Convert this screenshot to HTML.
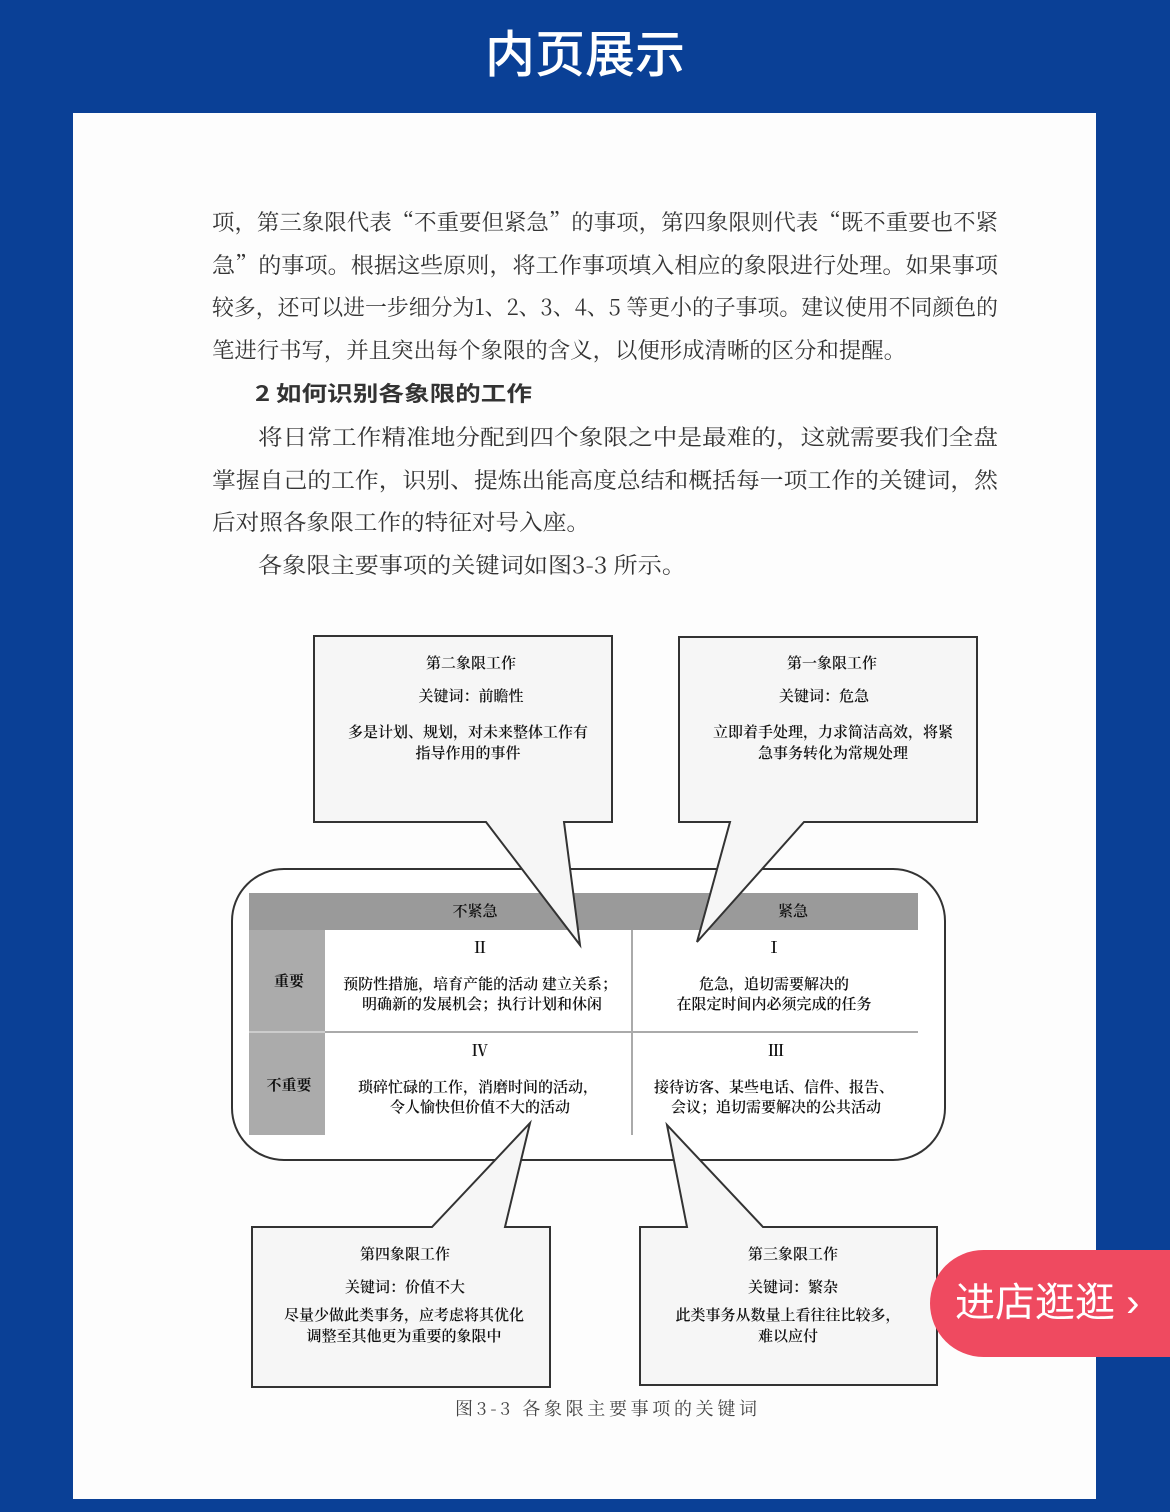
<!DOCTYPE html>
<html><head><meta charset="utf-8"><style>
html,body{margin:0;padding:0;}
body{width:1170px;height:1512px;background:#0a4096;position:relative;overflow:hidden;font-family:"Liberation Serif","Noto Serif CJK SC",serif;}
svg{position:absolute;left:0;top:0;}
.btn{position:absolute;left:930px;top:1250px;width:260px;height:107px;border-radius:54px 0 0 54px;background:#ef4a60;color:#fff;font-family:"Liberation Sans","Noto Sans CJK SC",sans-serif;font-size:40px;line-height:107px;padding-left:25px;box-sizing:border-box;}
</style></head><body>
<svg width="1170" height="1512" viewBox="0 0 1170 1512" xmlns="http://www.w3.org/2000/svg">
<text x="585" y="72" fill="#fff" font-family="Noto Sans CJK SC, sans-serif" font-size="50" text-anchor="middle" font-weight="500">内页展示</text>
<rect x="73" y="113" width="1023" height="1386" fill="#fdfdfd"/>
<g font-family="Noto Serif CJK SC, serif" font-size="22" fill="#333">
<text x="212" y="230" textLength="786" lengthAdjust="spacingAndGlyphs">项，第三象限代表“不重要但紧急”的事项，第四象限则代表“既不重要也不紧</text>
<text x="212" y="273" textLength="786" lengthAdjust="spacingAndGlyphs">急”的事项。根据这些原则，将工作事项填入相应的象限进行处理。如果事项</text>
<text x="212" y="315" textLength="786" lengthAdjust="spacingAndGlyphs">较多，还可以进一步细分为1、2、3、4、5 等更小的子事项。建议使用不同颜色的</text>
<text x="212" y="358" textLength="694" lengthAdjust="spacingAndGlyphs">笔进行书写，并且突出每个象限的含义，以便形成清晰的区分和提醒。</text>
<text x="255" y="401" font-family="Noto Sans CJK SC, sans-serif" font-weight="bold" font-size="21" textLength="277" lengthAdjust="spacingAndGlyphs">2  如何识别各象限的工作</text>
<text x="258" y="445" textLength="740" lengthAdjust="spacingAndGlyphs">将日常工作精准地分配到四个象限之中是最难的，这就需要我们全盘</text>
<text x="212" y="488" textLength="786" lengthAdjust="spacingAndGlyphs">掌握自己的工作，识别、提炼出能高度总结和概括每一项工作的关键词，然</text>
<text x="212" y="530" textLength="378" lengthAdjust="spacingAndGlyphs">后对照各象限工作的特征对号入座。</text>
<text x="258" y="573" textLength="428" lengthAdjust="spacingAndGlyphs">各象限主要事项的关键词如图3-3 所示。</text>
</g>
<rect x="232" y="869" width="713" height="291" rx="52" fill="#fff" stroke="#333" stroke-width="2"/>
<rect x="249" y="893" width="669" height="37" fill="#9a9a9a"/>
<rect x="249" y="930" width="76" height="205" fill="#ababab"/>
<rect x="325" y="930" width="593" height="205" fill="#fff"/>
<line x1="325" y1="1032" x2="918" y2="1032" stroke="#aaa" stroke-width="2"/>
<line x1="249" y1="1032" x2="325" y2="1032" stroke="#ccc" stroke-width="2"/>
<line x1="632" y1="930" x2="632" y2="1135" stroke="#aaa" stroke-width="2"/>
<g font-family="Noto Serif CJK SC, serif" fill="#111" text-anchor="middle" font-size="15" font-weight="600">
<text x="475" y="916">不紧急</text><text x="793" y="916">紧急</text>
<text x="289" y="986" font-weight="bold">重要</text><text x="289" y="1090" font-weight="bold">不重要</text>
<text x="480" y="953" font-size="16">Ⅱ</text><text x="774" y="953" font-size="16">Ⅰ</text>
<text x="480" y="1056" font-size="16">Ⅳ</text><text x="776" y="1056" font-size="16">Ⅲ</text>
<text x="480" y="989">预防性措施，培育产能的活动 建立关系；</text>
<text x="482" y="1009">明确新的发展机会；执行计划和休闲</text>
<text x="774" y="989">危急，追切需要解决的</text>
<text x="774" y="1009">在限定时间内必须完成的任务</text>
<text x="478" y="1092">琐碎忙碌的工作，消磨时间的活动，</text>
<text x="480" y="1112">令人愉快但价值不大的活动</text>
<text x="774" y="1092">接待访客、某些电话、信件、报告、</text>
<text x="776" y="1112">会议；追切需要解决的公共活动</text>
</g>
<g fill="#f6f6f6" stroke="#333" stroke-width="2" stroke-linejoin="miter">
<path d="M314 636 H612 V822 H564 L580 945 L486 822 H314 Z"/>
<path d="M679 637 H977 V822 H804 L697 942 L730 822 H679 Z"/>
<path d="M252 1227 H432 L530 1123 L505 1227 H550 V1387 H252 Z"/>
<path d="M640 1227 H687 L667 1125 L763 1227 H937 V1385 H640 Z"/>
</g>
<g font-family="Noto Serif CJK SC, serif" fill="#111" text-anchor="middle" font-size="15" font-weight="600">
<text x="471" y="668">第二象限工作</text><text x="471" y="701">关键词：前瞻性</text>
<text x="468" y="737">多是计划、规划，对未来整体工作有</text><text x="468" y="758">指导作用的事件</text>
<text x="832" y="668">第一象限工作</text><text x="824" y="701">关键词：危急</text>
<text x="833" y="737">立即着手处理，力求简洁高效，将紧</text><text x="833" y="758">急事务转化为常规处理</text>
<text x="405" y="1259">第四象限工作</text><text x="405" y="1292">关键词：价值不大</text>
<text x="404" y="1320">尽量少做此类事务，应考虑将其优化</text><text x="404" y="1341">调整至其他更为重要的象限中</text>
<text x="793" y="1259">第三象限工作</text><text x="793" y="1292">关键词：繁杂</text>
<text x="788" y="1320">此类事务从数量上看往往比较多，</text><text x="788" y="1341">难以应付</text>
</g>
<text x="455" y="1415" font-family="Noto Serif CJK SC, serif" font-size="18" fill="#444" textLength="302" lengthAdjust="spacing">图3-3   各象限主要事项的关键词</text>
</svg>
<div class="btn">进店逛逛 ›</div>
</body></html>
